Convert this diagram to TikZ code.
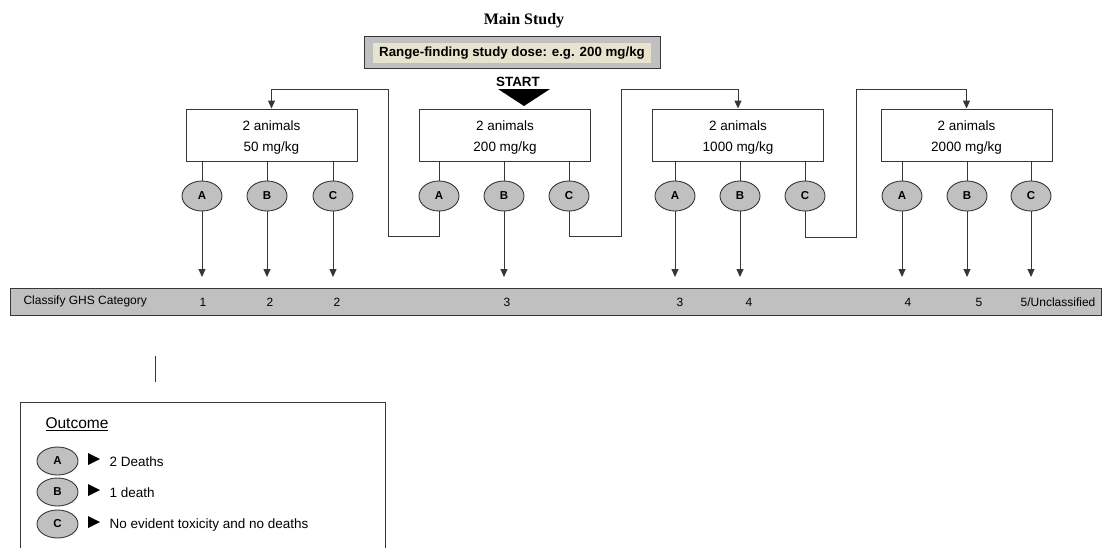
\documentclass[tikz,border=0pt]{standalone}
\usepackage{fontspec}
\setmainfont{Liberation Sans}
\newfontfamily\titlefont{Liberation Serif}
\usetikzlibrary{shapes.geometric,arrows.meta}
\definecolor{shade}{RGB}{192,192,192}
\definecolor{beige}{RGB}{231,227,207}
\definecolor{rule}{RGB}{55,55,55}

\begin{document}
\begin{tikzpicture}[x=1pt,y=-1pt,
    dosebox/.style={draw=rule,line width=1pt,fill=white,minimum width=171,
      minimum height=52,align=center,font=\fontsize{13.5}{21}\selectfont},
    outcome/.style={ellipse,draw=rule,line width=0.9pt,fill=shade,minimum width=40,
      minimum height=30,inner sep=0pt,font=\bfseries\fontsize{11.5}{13}\selectfont},
    wire/.style={draw=rule,line width=1pt},
    arr/.style={-{Triangle[width=7pt,length=8pt]}},
    catlabel/.style={font=\fontsize{12}{14}\selectfont}]
  \useasboundingbox (0,0) rectangle (1102,547);

  % header
  \node[font=\titlefont\bfseries\fontsize{16}{18}\selectfont] (title) at (524,21) {Main Study};
  \node[draw=rule,line width=1pt,fill=shade,minimum width=296,minimum height=32] (rangeout) at (512,52) {};
  \node[fill=beige,minimum width=278,minimum height=20,inner sep=0pt,font=\bfseries\fontsize{13.3}{15}\selectfont]
    (range) at (512,53) {Range-finding study dose: e.g. 200 mg/kg};
  \node[font=\bfseries\fontsize{13.4}{15}\selectfont] (start) at (518,82) {START};
  \fill (498,89) -- (550,89) -- (524,106) -- cycle;

  % dose groups
  \node[dosebox] (dose1) at (271.5,135) {\strut 2 animals\\50 mg/kg};
  \node[dosebox] (dose2) at (505,135) {\strut 2 animals\\200 mg/kg};
  \node[dosebox] (dose3) at (738,135) {\strut 2 animals\\1000 mg/kg};
  \node[dosebox] (dose4) at (966.5,135) {\strut 2 animals\\2000 mg/kg};

  \foreach \d/\xa/\xb/\xc in {1/202/267/333,2/439/504/569,3/675/740/805,4/902/967/1031} {
    \node[outcome] (a\d) at (\xa,196) {A};
    \node[outcome] (b\d) at (\xb,196) {B};
    \node[outcome] (c\d) at (\xc,196) {C};
    \draw[wire] (a\d) -- (a\d |- dose\d.south);
    \draw[wire] (b\d) -- (b\d |- dose\d.south);
    \draw[wire] (c\d) -- (c\d |- dose\d.south);
  }

  % down to the category
  \coordinate (catline) at (0,277);
  \foreach \o in {a1,b1,c1,b2,a3,b3,a4,b4,c4}
    \draw[wire,arr] (\o) -- (\o |- catline);

  % next dose
  \coordinate (low1) at (388,236);
  \coordinate (high1) at (388,89);
  \coordinate (low2) at (621,236);
  \coordinate (high2) at (621,89);
  \coordinate (low3) at (856,237);
  \coordinate (high3) at (856,89);
  \begin{scope}[wire,arr]
    \draw (a2) |- (low1) -- (high1) -| (dose1.north);
    \draw (c2) |- (low2) -- (high2) -| (dose3.north);
    \draw (c3) |- (low3) -- (high3) -| (dose4.north);
  \end{scope}

  % category band
  \node[draw=rule,line width=1pt,fill=shade,minimum width=1091,minimum height=27,inner sep=0pt]
    (band) at (555.5,301.5) {};
  \node[catlabel,anchor=west] (ghs) at (20,301) {Classify GHS Category};
  \foreach \n/\x/\t in {1/203/1,2/270/2,3/337/2,4/507/3,5/680/3,6/749/4,7/908/4,8/979/5}
    \node[catlabel] (cat\n) at (\x,302) {\t};
  \node[catlabel] (cat9) at (1058,302) {5/Unclassified};

  \draw[wire] (155,356) -- (155,382);

  % legend
  \draw[wire] (20,549) -- (20,402) -- (385,402) -- (385,549);
  \node[anchor=west,font=\fontsize{15.5}{17}\selectfont] (outcomehead) at (42,424) {\underline{Outcome}};
  \foreach \k/\y/\t in {A/461/2 Deaths,B/492/1 death,C/524/No evident toxicity and no deaths} {
    \node[outcome,minimum width=41,minimum height=28] (key\k) at (57.5,\y) {\k};
    \fill (88,\y-8) -- (100,\y-2) -- (88,\y+4) -- cycle;
    \node[anchor=west,font=\fontsize{13.5}{15}\selectfont] (note\k) at (106,\y+1) {\t};
  }
\end{tikzpicture}
\end{document}
